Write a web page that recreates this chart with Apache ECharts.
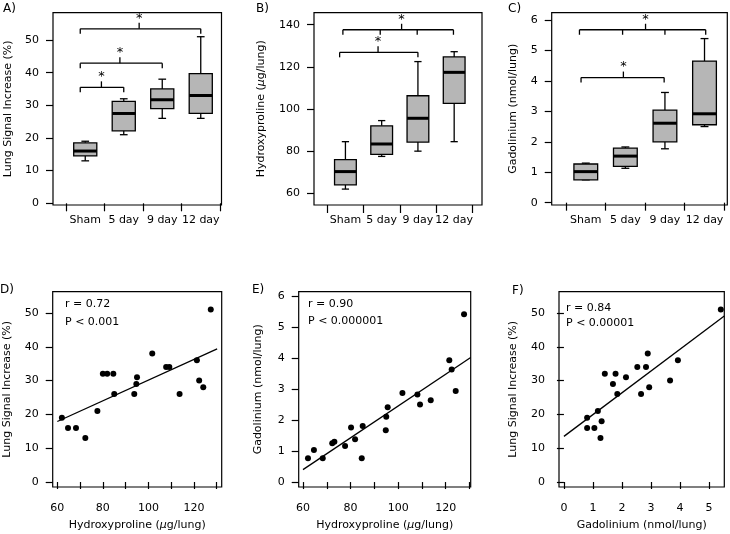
<!DOCTYPE html>
<html><head><meta charset="utf-8">
<script src="https://cdn.jsdelivr.net/npm/echarts@6/dist/echarts.min.js"></script>
<style>html,body{margin:0;padding:0;background:#fff}#c{width:730px;height:534px}</style>
</head><body><div id="c"></div>
<script>
// ---------- DATA ----------
const categories = ['Sham', '5 day', '9 day', '12 day'];
// box stats: [min, q1, median, q3, max]
const lungBox = [[13, 14.5, 16, 18.5, 19], [21, 22.2, 27.5, 31.2, 32], [26, 29, 31.7, 35, 38], [26, 27.5, 33, 39.7, 51]];
const hypBox = [[62, 64, 70.3, 76, 84.5], [77.5, 78.5, 83.4, 92, 94.5], [80, 84.3, 95.6, 106.3, 122.5], [84.5, 102.7, 117.4, 124.7, 127.2]];
const gdBox = [[0.75, 0.75, 1.02, 1.27, 1.3], [1.13, 1.19, 1.53, 1.79, 1.83], [1.77, 2.0, 2.61, 3.04, 3.62], [2.5, 2.56, 2.92, 4.65, 5.39]];
// significance brackets (ends / mid in category units, y in data units)
const lungBrackets = [{ends: [-0.13, 1], mid: 0.42, y: 35.5}, {ends: [-0.13, 2], mid: 0.9, y: 42.9}, {ends: [-0.13, 3], mid: 1.4, y: 53.4}];
const hypBrackets = [{ends: [-0.16, 2], mid: 0.9, y: 126.9}, {ends: [-0.07, 0.96, 1.98, 2.98], mid: 1.55, y: 137.6}];
const gdBrackets = [{ends: [-0.12, 1.98], mid: 0.95, y: 4.11}, {ends: [-0.16, 0.93, 2, 3.03], mid: 1.51, y: 5.68}];

// scatter D: hydroxyproline vs lung signal
const hypD = [62.0, 64.7, 68.2, 72.3, 77.6, 80.0, 81.9, 84.6, 85.0, 93.8, 94.7, 95.0, 101.7, 107.8, 109.2, 113.7, 121.3, 122.3, 124.1, 127.4];
const lungD = [19, 16, 16, 13, 21, 32, 32, 32, 26, 26, 29, 31, 38, 34, 34, 26, 36, 30, 28, 51];
// scatter E: hydroxyproline vs gadolinium
const hypE = [62.1, 64.6, 68.3, 72.3, 73.2, 77.7, 80.2, 81.9, 84.7, 85.1, 94.8, 95.0, 95.6, 101.8, 108.1, 109.2, 113.7, 121.5, 122.5, 124.2, 127.7];
const gdE = [0.77, 1.03, 0.77, 1.25, 1.30, 1.16, 1.76, 1.38, 0.77, 1.81, 1.67, 2.11, 2.41, 2.87, 2.82, 2.50, 2.64, 3.93, 3.63, 2.94, 5.41];
// scatter F: gadolinium vs lung signal
const gdF = [0.80, 0.80, 1.05, 1.17, 1.30, 1.26, 1.41, 1.69, 1.78, 1.84, 2.14, 2.53, 2.66, 2.83, 2.89, 2.94, 3.66, 3.93, 5.41];
const lungF = [19, 16, 16, 21, 18, 13, 32, 29, 32, 26, 31, 34, 26, 34, 38, 28, 30, 36, 51];
// regression line end points
const fitD = [[60, 17.9], [130.2, 39.4]];
const fitE = [[60, 0.40], [130.5, 4.02]];
const fitF = [[0, 13.5], [5.53, 49.1]];

// tick values
const lungTicks = [0, 10, 20, 30, 40, 50];
const hypTicksBox = [60, 80, 100, 120, 140];
const gdTicks = [0, 1, 2, 3, 4, 5, 6];
const hypTicks = [60, 70, 80, 90, 100, 110, 120, 130];
const hypLabels = [60, 80, 100, 120];
const gdXTicks = [0, 1, 2, 3, 4, 5];

const statsD = ['r = 0.72', 'P < 0.001'];
const statsE = ['r = 0.90', 'P < 0.000001'];
const statsF = ['r = 0.84', 'P < 0.00001'];

// ---------- CHART ----------
const FONT = 'DejaVu Sans';
const black = '#000';
const ls = {stroke: black, lineWidth: 1.3};

function renderBox(params, api) {
  const i = api.value(0);
  const bw = api.size([1, 0])[0];
  const half = bw * 0.3, cap = bw * 0.1;
  const Y = k => api.coord([i, api.value(k)])[1];
  const x = api.coord([i, api.value(3)])[0];
  const yMin = Y(1), yQ1 = Y(2), yMed = Y(3), yQ3 = Y(4), yMax = Y(5);
  return {type: 'group', children: [
    {type: 'line', shape: {x1: x, y1: yMax, x2: x, y2: yQ3}, style: ls},
    {type: 'line', shape: {x1: x, y1: yQ1, x2: x, y2: yMin}, style: ls},
    {type: 'line', shape: {x1: x - cap, y1: yMax, x2: x + cap, y2: yMax}, style: ls},
    {type: 'line', shape: {x1: x - cap, y1: yMin, x2: x + cap, y2: yMin}, style: ls},
    {type: 'rect', shape: {x: x - half, y: yQ3, width: 2 * half, height: yQ1 - yQ3}, style: {fill: '#b6b6b6', stroke: black, lineWidth: 1.3}},
    {type: 'line', shape: {x1: x - half, y1: yMed, x2: x + half, y2: yMed}, style: {stroke: black, lineWidth: 3}}
  ]};
}
function bracketRenderer(list) {
  return function (params, api) {
    const b = list[params.dataIndex];
    const p0 = api.coord([0, b.y]);
    const bw = api.size([1, 0])[0];
    const X = c => p0[0] + c * bw;
    const yy = p0[1];
    const xs = b.ends.map(X);
    const ch = [{type: 'line', shape: {x1: xs[0], y1: yy, x2: xs[xs.length - 1], y2: yy}, style: ls}];
    xs.forEach(x => ch.push({type: 'line', shape: {x1: x, y1: yy, x2: x, y2: yy + 5}, style: ls}));
    const xm = X(b.mid);
    ch.push({type: 'line', shape: {x1: xm, y1: yy, x2: xm, y2: yy - 6}, style: ls});
    ch.push({type: 'text', x: xm, y: yy - 10.5, style: {text: '*', align: 'center', textAlign: 'center', verticalAlign: 'middle', textVerticalAlign: 'middle', font: '13px ' + FONT, fill: black}});
    return {type: 'group', children: ch};
  };
}

const tickStyle = {lineStyle: {color: black, width: 1.2}};
const labelStyle = {color: black, fontFamily: FONT, fontSize: 11};
const nameStyle = {color: black, fontFamily: FONT, fontSize: 11,
  rich: {a: {color: black, fontFamily: FONT, fontSize: 11}, i: {color: black, fontFamily: FONT, fontSize: 11, fontStyle: 'italic'}}};
const hypName = '{a|Hydroxyproline (}{i|µ}{a|g/lung)}';

function frameGrid(left, top, width, height) {
  return {left, top, width, height, show: true, borderColor: black, borderWidth: 1.2, backgroundColor: 'transparent', containLabel: false, outerBoundsMode: 'none'};
}
function plainGrid(left, top, width, height) {
  return {left, top, width, height, show: false, containLabel: false, outerBoundsMode: 'none'};
}
function valueY(gi, min, max, ticks, name, gap) {
  return {gridIndex: gi, type: 'value', min, max, axisLine: {show: false}, splitLine: {show: false},
    axisTick: {show: true, inside: false, length: 7, customValues: ticks, ...tickStyle},
    axisLabel: {customValues: ticks, margin: 14, ...labelStyle},
    name, nameLocation: 'middle', nameGap: gap, nameTextStyle: nameStyle};
}
function hiddenX(gi) { return {gridIndex: gi, type: 'value', show: false, min: 0, max: 1}; }
function hiddenY(gi, min, max) { return {gridIndex: gi, type: 'value', show: false, min, max}; }
function catX(gi) {
  return {gridIndex: gi, type: 'category', data: categories, boundaryGap: true, axisLine: {show: false},
    axisTick: {show: true, inside: false, length: 8, alignWithLabel: false, ...tickStyle},
    axisLabel: {margin: 9.5, interval: 0, ...labelStyle}, splitLine: {show: false}};
}
function valueX(gi, min, max, ticks, labels, name) {
  return {gridIndex: gi, type: 'value', min, max, axisLine: {show: false}, splitLine: {show: false},
    axisTick: {show: true, inside: false, length: 7, customValues: ticks, ...tickStyle},
    axisLabel: {customValues: labels, margin: 15.5, ...labelStyle},
    name, nameLocation: 'middle', nameGap: 33, nameTextStyle: nameStyle};
}
const zip = (a, b) => a.map((v, i) => [v, b[i]]);

const grids = [
  frameGrid(53, 12.7, 168.5, 192.3), plainGrid(66, 12.7, 154, 192.3),
  frameGrid(314, 12.7, 168, 192.3), plainGrid(327.3, 12.7, 145, 192.3),
  frameGrid(551.7, 12.7, 175.6, 192.3), plainGrid(566, 12.7, 158.3, 192.3),
  frameGrid(52.7, 291.7, 169, 195.3), frameGrid(298.7, 291.7, 172, 195.3), frameGrid(559, 291.7, 165.3, 195.3)
];
const xAxes = [
  hiddenX(0), catX(1), hiddenX(2), catX(3), hiddenX(4), catX(5),
  valueX(6, 57.97, 132.2, hypTicks, hypLabels, hypName),
  valueX(7, 58.2, 130.5, hypTicks, hypLabels, hypName),
  valueX(8, -0.17, 5.53, gdXTicks, gdXTicks, 'Gadolinium (nmol/lung)')
];
const yAxes = [
  valueY(0, -0.52, 58.35, lungTicks, 'Lung Signal Increase (%)', 39), hiddenY(1, -0.52, 58.35),
  valueY(2, 54.45, 145.7, hypTicksBox, hypName, 47), hiddenY(3, 54.45, 145.7),
  valueY(4, -0.076, 6.24, gdTicks, 'Gadolinium (nmol/lung)', 33), hiddenY(5, -0.076, 6.24),
  valueY(6, -1.48, 56.3, lungTicks, 'Lung Signal Increase (%)', 40),
  valueY(7, -0.16, 6.14, gdTicks, 'Gadolinium (nmol/lung)', 35),
  valueY(8, -1.48, 56.3, lungTicks, 'Lung Signal Increase (%)', 40)
];
function boxSeries(ai, stats) {
  return {type: 'custom', xAxisIndex: ai, yAxisIndex: ai, renderItem: renderBox,
    encode: {x: 0, y: [1, 2, 3, 4, 5]}, data: stats.map((s, i) => [i, ...s]), silent: true, z: 3};
}
function bracketSeries(ai, list) {
  return {type: 'custom', xAxisIndex: ai, yAxisIndex: ai, renderItem: bracketRenderer(list),
    encode: {x: 0, y: 1}, data: list.map(b => [0, b.y]), silent: true, z: 4};
}
function scatterSeries(ai, xs, ys) {
  return {type: 'scatter', xAxisIndex: ai, yAxisIndex: ai, data: zip(xs, ys), symbol: 'circle', symbolSize: 6,
    itemStyle: {color: black, opacity: 1}, silent: true, z: 3};
}
function fitSeries(ai, pts) {
  return {type: 'line', xAxisIndex: ai, yAxisIndex: ai, data: pts, symbol: 'none',
    lineStyle: {color: black, width: 1.3}, silent: true, z: 2};
}
function txt(x, y, t, size) {
  return {type: 'text', x, y, style: {text: t, font: (size || 11) + 'px ' + FONT, fill: black, verticalAlign: 'middle', textVerticalAlign: 'middle'}};
}

const chart = echarts.init(document.getElementById('c'), null, {renderer: 'canvas'});
chart.setOption({
  animation: false,
  backgroundColor: '#fff',
  textStyle: {fontFamily: FONT, color: black},
  grid: grids,
  xAxis: xAxes,
  yAxis: yAxes,
  series: [
    boxSeries(1, lungBox), bracketSeries(1, lungBrackets),
    boxSeries(3, hypBox), bracketSeries(3, hypBrackets),
    boxSeries(5, gdBox), bracketSeries(5, gdBrackets),
    fitSeries(6, fitD), scatterSeries(6, hypD, lungD),
    fitSeries(7, fitE), scatterSeries(7, hypE, gdE),
    fitSeries(8, fitF), scatterSeries(8, gdF, lungF)
  ],
  graphic: [
    txt(3, 9, 'A)', 12), txt(256, 9, 'B)', 12), txt(508, 9, 'C)', 12),
    txt(0, 290, 'D)', 12), txt(252, 290, 'E)', 12), txt(512, 291, 'F)', 12),
    txt(65, 304, statsD[0]), txt(65, 321.7, statsD[1]),
    txt(308, 304.3, statsE[0]), txt(308, 320.7, statsE[1]),
    txt(566, 307.7, statsF[0]), txt(566, 323.3, statsF[1])
  ]
});
</script>
</body></html>
